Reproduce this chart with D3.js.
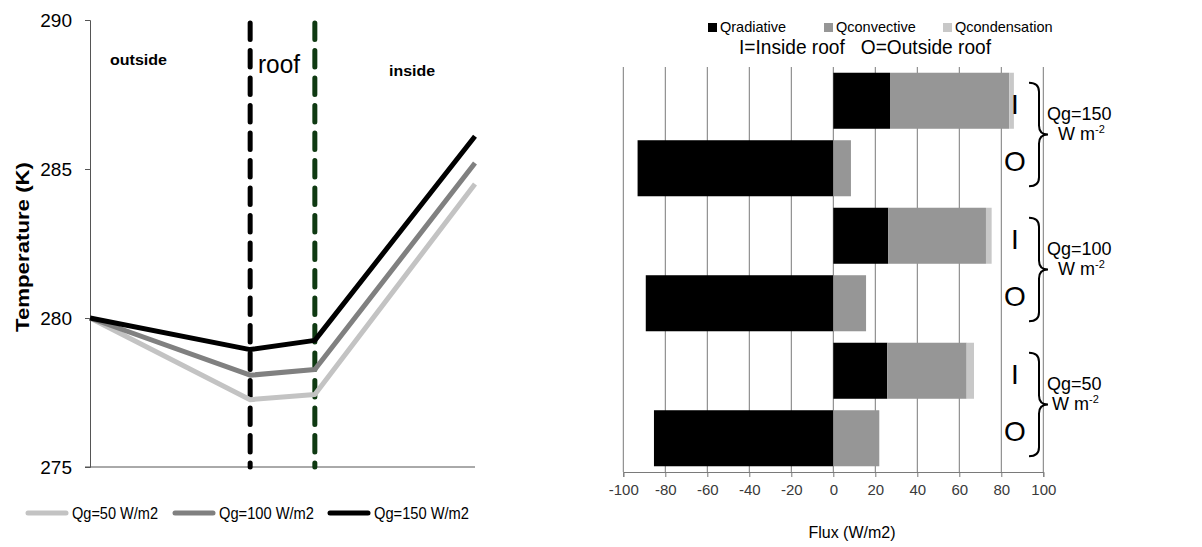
<!DOCTYPE html>
<html><head><meta charset="utf-8">
<script src="https://cdn.jsdelivr.net/npm/d3@7/dist/d3.min.js"></script>
<style>
body{margin:0;background:#fff;}
svg{display:block;}
text{font-family:"Liberation Sans",Arial,sans-serif;}
</style></head>
<body>
<svg id="c" width="1202" height="547"></svg>
<script>
// ---------- Left chart data ----------
const positions = [0, 0.416, 0.584, 1];          // outside surface, roof outer, roof inner, inside
const seriesNames = ["Qg=50 W/m2", "Qg=100 W/m2", "Qg=150 W/m2"];
const temp50  = [280.0, 277.26, 277.43, 284.5];
const temp100 = [280.0, 278.08, 278.27, 285.2];
const temp150 = [280.0, 278.94, 279.25, 286.1];
const tempTicks = [275, 280, 285, 290];
const regionLabels = ["outside", "roof", "inside"];

// ---------- Right chart data ----------
const categories = ["I150", "O150", "I100", "O100", "I50", "O50"];
const sideLabels = ["I", "O", "I", "O", "I", "O"];
const qRadiative   = [27.0, -93.2, 26.2, -89.3, 25.7, -85.4];
const qConvective  = [56.8, 8.4, 46.5, 15.6, 37.8, 21.9];
const qCondensation= [2.2, 0, 2.7, 0, 3.5, 0];
const fluxKeys = ["Qradiative", "Qconvective", "Qcondensation"];
const fluxTicks = [-100, -80, -60, -40, -20, 0, 20, 40, 60, 80, 100];
const groupLabels = ["Qg=150", "Qg=100", "Qg=50"];

const svg = d3.select("#c");

// ================= LEFT CHART =================
const xL = d3.scaleLinear().domain([0, 1]).range([90, 475]);
const yL = d3.scaleLinear().domain([275, 290]).range([467, 20]);
const lineColors = ["#c3c3c3", "#808080", "#000000"];
const gL = svg.append("g");

const yAx = gL.append("g").attr("transform", "translate(90,0)")
  .call(d3.axisLeft(yL).tickValues(tempTicks).tickSize(5).tickPadding(13));
yAx.select(".domain").attr("stroke", "#555");
yAx.selectAll(".tick line").attr("stroke", "#555");
yAx.selectAll(".tick text").attr("font-size", 19).attr("fill", "#000")
  .attr("font-family", "'Liberation Sans',Arial,sans-serif");
gL.append("line").attr("x1", 85).attr("x2", xL(1)).attr("y1", yL(275)).attr("y2", yL(275))
  .attr("stroke", "#555").attr("stroke-width", 1);

gL.append("text").attr("font-weight", "bold").attr("font-size", 19)
  .attr("text-anchor", "middle").attr("transform", "translate(29,247) rotate(-90)")
  .attr("textLength", 170).attr("lengthAdjust", "spacingAndGlyphs")
  .text("Temperature (K)");

// dashed roof boundaries
const roofColors = ["#000000", "#0f3a12"];
[positions[1], positions[2]].forEach((p, i) => {
  gL.append("line").attr("x1", xL(p)).attr("x2", xL(p)).attr("y1", yL(290) + 3).attr("y2", yL(275))
    .attr("stroke", roofColors[i]).attr("stroke-width", 5).attr("stroke-dasharray", "16.5,11")
    .attr("stroke-linecap", "round");
});

// temperature lines
const line = d3.line().x((d, i) => xL(positions[i])).y(d => yL(d));
[temp50, temp100, temp150].forEach((s, i) => {
  gL.append("path").datum(s).attr("d", line).attr("fill", "none")
    .attr("stroke", lineColors[i]).attr("stroke-width", 5).attr("stroke-linejoin", "round");
});

// region labels
gL.append("text").attr("font-weight", "bold").attr("font-size", 15)
  .attr("x", 110).attr("y", 65).attr("textLength", 57).attr("lengthAdjust", "spacingAndGlyphs").text(regionLabels[0]);
gL.append("text").attr("font-size", 26)
  .attr("x", 258).attr("y", 73).attr("textLength", 42).attr("lengthAdjust", "spacingAndGlyphs").text(regionLabels[1]);
gL.append("text").attr("font-weight", "bold").attr("font-size", 15)
  .attr("x", 389).attr("y", 76).attr("textLength", 46).attr("lengthAdjust", "spacingAndGlyphs").text(regionLabels[2]);

// legend
const legX = [28, 175, 330];
const legW = [86, 95, 95];
seriesNames.forEach((n, i) => {
  gL.append("line").attr("x1", legX[i]).attr("x2", legX[i] + 38).attr("y1", 513).attr("y2", 513)
    .attr("stroke", lineColors[i]).attr("stroke-width", 5).attr("stroke-linecap", "round");
  gL.append("text").attr("font-size", 16).attr("x", legX[i] + 44).attr("y", 519)
    .attr("textLength", legW[i]).attr("lengthAdjust", "spacingAndGlyphs").text(n);
});

// ================= RIGHT CHART =================
const xR = d3.scaleLinear().domain([-100, 100]).range([623.3, 1043.3]);
const yR = d3.scaleBand().domain(categories).range([67, 472]).paddingInner(0.17).paddingOuter(0.085);
const gR = svg.append("g");
const barColors = ["#000000", "#969696", "#c8c8c8"];

// gridlines
gR.selectAll(".grid").data(fluxTicks).enter().append("line")
  .attr("x1", d => xR(d)).attr("x2", d => xR(d)).attr("y1", 67).attr("y2", 472)
  .attr("stroke", "#7a7a7a").attr("stroke-width", 1);

// stacked bars
const rows = categories.map((c, i) => ({cat: c, Qradiative: qRadiative[i], Qconvective: qConvective[i], Qcondensation: qCondensation[i]}));
const stacked = d3.stack().keys(fluxKeys).offset(d3.stackOffsetDiverging)(rows);
stacked.forEach((layer, k) => {
  gR.append("g").selectAll("rect").data(layer).enter().append("rect")
    .attr("x", d => xR(Math.min(d[0], d[1])))
    .attr("width", d => Math.abs(xR(d[1]) - xR(d[0])))
    .attr("y", d => yR(d.data.cat)).attr("height", yR.bandwidth())
    .attr("fill", barColors[k]);
});

// x axis
const xAx = gR.append("g").attr("transform", "translate(0,472)")
  .call(d3.axisBottom(xR).tickValues(fluxTicks).tickSize(5).tickPadding(7).tickFormat(d => String(d)));
xAx.select(".domain").attr("stroke", "#7a7a7a");
xAx.selectAll(".tick line").attr("stroke", "#7a7a7a");
xAx.selectAll(".tick text").attr("font-size", 15).attr("fill", "#3a3a3a")
  .attr("font-family", "'Liberation Sans',Arial,sans-serif");

gR.append("text").attr("font-family", "Carlito, Lato, 'Open Sans', sans-serif").attr("font-size", 16)
  .attr("text-anchor", "middle").attr("x", 852).attr("y", 538).text("Flux (W/m2)");

// legend
const lgX = [708, 824, 943];
fluxKeys.forEach((k, i) => {
  gR.append("rect").attr("x", lgX[i]).attr("y", 23).attr("width", 9).attr("height", 9).attr("fill", barColors[i]);
  gR.append("text").attr("font-size", 14.5).attr("x", lgX[i] + 12).attr("y", 32).text(k);
});
gR.append("text").attr("font-size", 21).attr("x", 739).attr("y", 54)
  .attr("textLength", 252).attr("lengthAdjust", "spacingAndGlyphs")
  .style("white-space", "pre").text("I=Inside roof   O=Outside roof");

// I / O labels
const sideOffset = {I: 3, O: -7};
gR.selectAll(".side").data(categories).enter().append("text")
  .attr("font-size", 28).attr("text-anchor", "middle").attr("x", 1015)
  .attr("y", (d, i) => yR(d) + yR.bandwidth() / 2 + sideOffset[sideLabels[i]] + 10)
  .text((d, i) => sideLabels[i]);

// braces and group labels
function bracePath(x0, x1, x2, top, bot) {
  const mid = (top + bot) / 2, r = 9;
  return `M${x0},${top} Q${x1},${top} ${x1},${top + r} L${x1},${mid - r} Q${x1},${mid} ${x2},${mid}` +
         ` Q${x1},${mid} ${x1},${mid + r} L${x1},${bot - r} Q${x1},${bot} ${x0},${bot}`;
}
groupLabels.forEach((g, i) => {
  const cI = categories[i * 2], cO = categories[i * 2 + 1];
  const top = yR(cI) + 10, bot = yR(cO) + yR.bandwidth() - 10;
  gR.append("path").attr("d", bracePath(1029, 1039, 1048, top, bot))
    .attr("fill", "none").attr("stroke", "#000").attr("stroke-width", 2);
  const mid = (top + bot) / 2;
  const t = gR.append("text").attr("font-size", 18);
  t.append("tspan").attr("x", 1047).attr("y", mid - 15).text(g);
  t.append("tspan").attr("x", i === 2 ? 1052 : 1058).attr("y", mid + 5).text("W m");
  t.append("tspan").attr("font-size", 11).attr("dy", -7).text("-2");
});
</script>
</body></html>
